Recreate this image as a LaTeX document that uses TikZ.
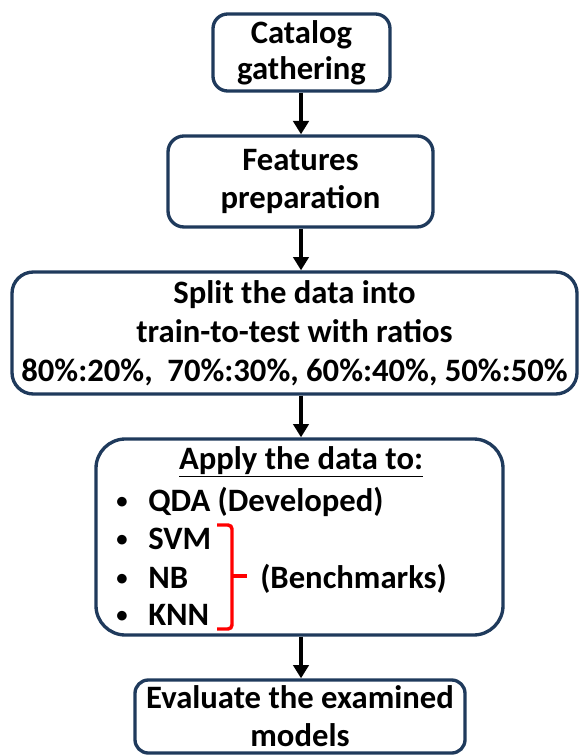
\documentclass[tikz,border=0pt]{standalone}
\usepackage{fontspec}
\setmainfont{Carlito}
\usetikzlibrary{arrows.meta}
\definecolor{boxedge}{HTML}{1F3A5C}
\definecolor{bracketred}{HTML}{FF0000}
\tikzset{
  stepbox/.style={draw=boxedge, line width=2.5pt, fill=white, inner sep=0pt,
    align=center, font=\bfseries\fontsize{24.5}{28.5}\selectfont},
  flow/.style={line width=2.6pt, -{Triangle[width=11.5pt,length=10pt]}},
  itemtext/.style={anchor=base west, inner sep=0pt, font=\bfseries\fontsize{24.5}{28.5}\selectfont},
  bullet/.style={anchor=base, inner sep=0pt, font=\bfseries\fontsize{17}{20}\selectfont},
}
\begin{document}
\begin{tikzpicture}[x=0.75pt,y=-0.75pt]
\useasboundingbox (0,0) rectangle (578,755);

\node[stepbox, rounded corners=11pt, minimum width=132.75pt, minimum height=57.75pt,
  font=\bfseries\fontsize{24.5}{27}\selectfont] (catalog) at (301.5,52.5)
  {Catalog\\gathering};
\node[stepbox, rounded corners=12pt, minimum width=198.75pt, minimum height=68.25pt]
  (features) at (300.5,181.5) {Features\\preparation};
\node[stepbox, rounded corners=16pt, minimum width=423.75pt, minimum height=91.5pt,
  font=\bfseries\fontsize{24.5}{29.25}\selectfont] (split) at (294.5,333)
  {Split the data into\\train-to-test with ratios\\80\%:20\%,\ \ 70\%:30\%, 60\%:40\%, 50\%:50\%};
\node[stepbox, rounded corners=22pt, minimum width=305.25pt, minimum height=147pt]
  (apply) at (299.5,537) {};
\node[stepbox, rounded corners=10pt, minimum width=247.5pt, minimum height=54.75pt]
  (evaluate) at (300,716.5) {Evaluate the examined\\models};

% contents of the model box
\node[anchor=base, inner sep=0pt, font=\bfseries\fontsize{24.5}{28.5}\selectfont]
  (head) at (301,469) {\underline{Apply the data to:}};
\node[bullet] (b1) at (122,508) {•};
\node[bullet] (b2) at (122,546) {•};
\node[bullet] (b3) at (122,585) {•};
\node[bullet] (b4) at (122,622) {•};
\node[itemtext] (qda) at (148,511) {QDA (Developed)};
\node[itemtext] (svm) at (148,549) {SVM};
\node[itemtext] (nb)  at (148,588) {NB};
\node[itemtext] (knn) at (148,625) {KNN};
\node[itemtext] (bench) at (260,588) {(Benchmarks)};

% red brace grouping the benchmark models
\draw[bracketred, line width=2.6pt, rounded corners=3pt]
  (217,525) -- (232,525) -- (232,629) -- (217,629);
\draw[bracketred, line width=2.6pt] (232,576) -- (247,576);

% flow arrows
\draw[flow] (catalog.south -| 301,0) -- (features.north -| 301,0);
\draw[flow] (features.south -| 301,0) -- (split.north -| 301,0);
\draw[flow] (split.south -| 301,0) -- (apply.north -| 301,0);
\draw[flow] (apply.south -| 301,0) -- (evaluate.north -| 301,0);
\end{tikzpicture}
\end{document}
